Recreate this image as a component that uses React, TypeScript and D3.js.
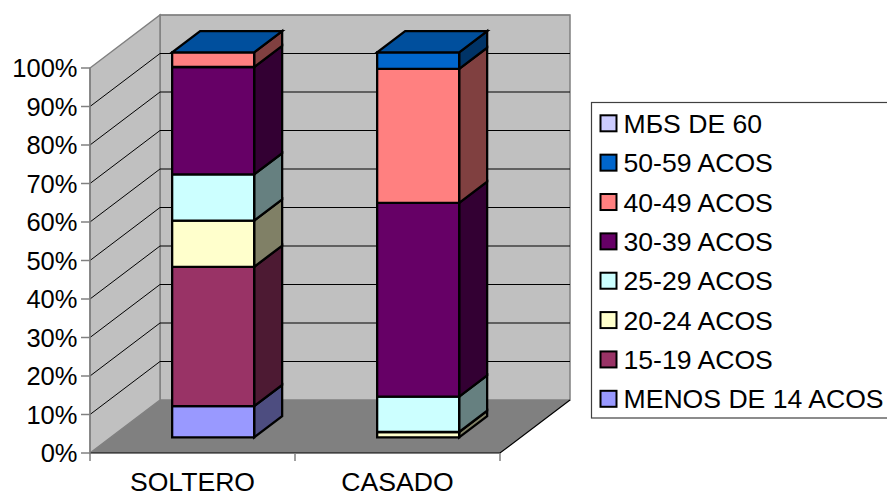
import React from "react";
import * as d3 from "d3";

// Percentage share of each age group per marital status
const categories = ["SOLTERO", "CASADO"];
const seriesNames = [
  "MENOS DE 14 ACOS",
  "15-19 ACOS",
  "20-24 ACOS",
  "25-29 ACOS",
  "30-39 ACOS",
  "40-49 ACOS",
  "50-59 ACOS",
  "MБS DE 60",
];
const menos14 = [8.1, 0];
const de15a19 = [36.2, 0];
const de20a24 = [12, 1.4];
const de25a29 = [12, 9.2];
const de30a39 = [27.9, 50.3];
const de40a49 = [3.8, 34.8];
const de50a59 = [0, 4.3];
const mas60 = [0, 0];
const seriesValues = [menos14, de15a19, de20a24, de25a29, de30a39, de40a49, de50a59, mas60];
const seriesColors = ["#9999ff", "#993366", "#ffffcc", "#ccffff", "#660066", "#ff8080", "#0066cc", "#ccccff"];
const yTicks = [0, 10, 20, 30, 40, 50, 60, 70, 80, 90, 100];
const capSeries = 6; // last series holding data colours the top of each column

const W = 887;
const H = 493;
const FONT = "'Liberation Sans', Arial, sans-serif";
const FS_AXIS = 25.5;
const FS_LABEL = 26.6;

// Oblique projection: depth 0 is the front plane, depth 1 the back wall
const DEPTH_X = 70;
const DEPTH_Y = -53;
const x = d3.scaleBand<string>().domain(categories).range([90, 500]).paddingInner(0).paddingOuter(0);
const y = d3.scaleLinear().domain([0, 100]).range([453, 68]);
const pt = (px: number, value: number, depth: number): [number, number] => [
  px + depth * DEPTH_X,
  y(value) + depth * DEPTH_Y,
];
const poly = d3.line();
const closed = (pts: [number, number][]) => poly(pts) + "Z";

const BAR_FRONT = 0.295;
const BAR_BACK = 0.695;
const BAR_RATIO = 0.4;

const rows = categories.map((c, i) => {
  const r: Record<string, number | string> = { category: c };
  seriesNames.forEach((s, k) => (r[s] = seriesValues[k][i]));
  return r;
});
const stacked = d3.stack<Record<string, number | string>>().keys(seriesNames)(rows as any);

const shade = (c: string, k: number) => {
  const o = d3.rgb(c);
  return d3.rgb(o.r * k, o.g * k, o.b * k).formatHex();
};

const legendRowY = d3.scalePoint<string>().domain([...seriesNames].reverse()).range([123.3, 398.8]);

function Column({ index }: { index: number }) {
  const cat = categories[index];
  const bw = x.bandwidth();
  const w = bw * BAR_RATIO;
  const x0 = x(cat)! + (bw - w) / 2;
  const x1 = x0 + w;
  const segments = stacked
    .map((s, k) => ({ k, v0: s[index][0], v1: s[index][1] }))
    .filter((d) => d.v1 > d.v0);
  const top = segments[segments.length - 1].v1;
  const edge = { stroke: "#000", strokeWidth: 2.3, strokeLinejoin: "miter" as const };
  return (
    <g>
      {segments.map((d) => (
        <g key={d.k}>
          <path
            d={closed([pt(x1, d.v0, BAR_FRONT), pt(x1, d.v0, BAR_BACK), pt(x1, d.v1, BAR_BACK), pt(x1, d.v1, BAR_FRONT)])}
            fill={shade(seriesColors[d.k], 0.5)}
            {...edge}
          />
          <path
            d={closed([pt(x0, d.v0, BAR_FRONT), pt(x1, d.v0, BAR_FRONT), pt(x1, d.v1, BAR_FRONT), pt(x0, d.v1, BAR_FRONT)])}
            fill={seriesColors[d.k]}
            {...edge}
          />
        </g>
      ))}
      <path
        d={closed([pt(x0, top, BAR_FRONT), pt(x1, top, BAR_FRONT), pt(x1, top, BAR_BACK), pt(x0, top, BAR_BACK)])}
        fill={shade(seriesColors[capSeries], 0.77)}
        {...edge}
      />
    </g>
  );
}

export default function App() {
  const [xl, xr] = x.range();
  return (
    <svg
      width={W}
      height={H}
      viewBox={`0 0 ${W} ${H}`}
      style={{ position: "absolute", left: 0, top: 0, display: "block", background: "#fff" }}
      fontFamily={FONT}
    >
      {/* Walls and floor */}
      <path d={closed([pt(xl, 0, 1), pt(xr, 0, 1), pt(xr, 100, 1), pt(xl, 100, 1)])} fill="#c0c0c0" stroke="#808080" strokeWidth={1.5} />
      <path d={closed([pt(xl, 0, 0), pt(xl, 0, 1), pt(xl, 100, 1), pt(xl, 100, 0)])} fill="#c0c0c0" stroke="#808080" strokeWidth={1.5} />
      <path d={closed([pt(xl, 0, 0), pt(xr, 0, 0), pt(xr, 0, 1), pt(xl, 0, 1)])} fill="#808080" />
      <path d={poly([pt(xl, 0, 0), pt(xr, 0, 0), pt(xr, 0, 1)])!} fill="none" stroke="#000" strokeWidth={1.2} />

      {/* Gridlines across the left and back walls */}
      {yTicks.filter((t) => t > 0).map((t) => (
        <path
          key={t}
          d={poly(t === 100 ? [pt(xl, t, 1), pt(xr, t, 1)] : [pt(xl, t, 0), pt(xl, t, 1), pt(xr, t, 1)])!}
          fill="none"
          stroke={t === 100 ? "#808080" : "#000"}
          strokeWidth={1}
        />
      ))}

      {categories.map((c, i) => (
        <Column key={c} index={i} />
      ))}

      {/* Value axis */}
      <line x1={xl} x2={xl} y1={y(100)} y2={y(0)} stroke="#808080" strokeWidth={1.5} />
      {yTicks.map((t) => (
        <g key={t}>
          <line x1={xl - 9} x2={xl} y1={y(t)} y2={y(t)} stroke="#808080" strokeWidth={1.5} />
          <text x={77.5} y={y(t)} dy="0.36em" textAnchor="end" fontSize={FS_AXIS} fill="#000">
            {t}%
          </text>
        </g>
      ))}

      {/* Category axis */}
      {[xl, x(categories[1])!, xr].map((px) => (
        <line key={px} x1={px} x2={px} y1={y(0)} y2={y(0) + 8} stroke="#808080" strokeWidth={1.5} />
      ))}
      {categories.map((c) => (
        <text key={c} x={x(c)! + x.bandwidth() / 2} y={490.5} textAnchor="middle" fontSize={FS_LABEL} fill="#000">
          {c}
        </text>
      ))}

      {/* Legend, running off the right edge of the page */}
      <rect x={591.5} y={102.5} width={320} height={315.5} fill="#fff" stroke="#404040" strokeWidth={1.2} />
      {[...seriesNames].reverse().map((s) => {
        const k = seriesNames.indexOf(s);
        const ly = legendRowY(s)!;
        return (
          <g key={s}>
            <rect x={600.5} y={ly - 8} width={16} height={16} fill={seriesColors[k]} stroke="#000" strokeWidth={2} />
            <text x={623.5} y={ly} dy="0.36em" fontSize={FS_LABEL} fill="#000">
              {s}
            </text>
          </g>
        );
      })}
    </svg>
  );
}
